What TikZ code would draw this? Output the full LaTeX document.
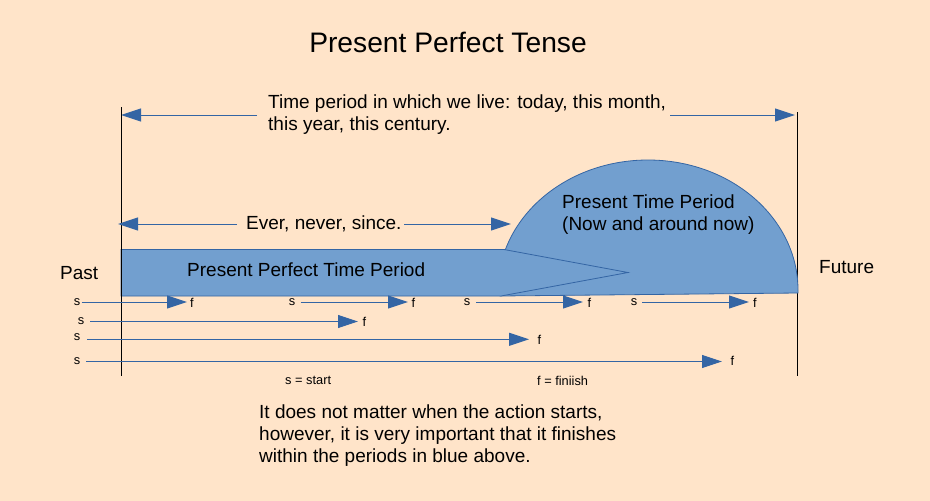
\documentclass[tikz,border=0pt]{standalone}
\usepackage{fontspec}
\setmainfont{Liberation Sans}
\usetikzlibrary{arrows.meta}
\definecolor{bg}{RGB}{255,228,201}
\definecolor{fillblue}{RGB}{114,159,207}
\definecolor{edgeblue}{RGB}{52,101,164}
\tikzset{
  txt/.style={font=\fontsize{19}{22}\selectfont, align=left, inner sep=0pt, anchor=west},
  small/.style={font=\fontsize{12.8}{14}\selectfont, inner sep=0pt},
  arr/.style={draw=edgeblue, line width=1pt, -{Triangle[length=20pt,width=13pt]}},
  vline/.style={draw=black, line width=0.9pt},
  region/.style={fill=fillblue, draw=edgeblue, line width=0.8pt},
}
\begin{document}
\begin{tikzpicture}[x=1pt,y=-1pt]
\fill[bg] (0,0) rectangle (930,501);
\useasboundingbox (0,0) rectangle (930,501);

% title
\node[font=\fontsize{28.2}{30}\selectfont, inner sep=0pt] (title) at (448,42) {Present Perfect Tense};

% vertical boundary lines
\coordinate (lt) at (121,107); \coordinate (lb) at (121,376);
\coordinate (rt) at (797,112); \coordinate (rb) at (797,376);
\draw[vline] (lt) -- (lb);
\draw[vline] (rt) -- (rb);

% top arrow with text
\node[txt] (toptext) at (268,115) {Time period in which we live: today, this month,\\this year, this century.};
\coordinate (tl0) at (257,115); \coordinate (tl1) at (121,115);
\coordinate (tr0) at (670,115); \coordinate (tr1) at (795,115);
\draw[arr] (tl0) -- (tl1);
\draw[arr] (tr0) -- (tr1);

% present time period dome
\path[region] (500,296) -- (798,293) -- (798,290) arc (0:-180:150 and 130) -- cycle;
% present perfect bar
\path[region] (121,249.5) -- (504,249.5) -- (628,272.5) -- (501,296) -- (121,296) -- cycle;
\draw[vline] (lt) -- (lb);

\node[txt] (ptp) at (562,214.5) {Present Time Period\\(Now and around now)};
\node[txt] (pptp) at (187,269.5) {Present Perfect Time Period};

% ever never since
\node[txt] (ever) at (246,224) {Ever, never, since.};
\coordinate (el0) at (237,224); \coordinate (el1) at (118,224);
\coordinate (er0) at (404,224); \coordinate (er1) at (511,224);
\draw[arr] (el0) -- (el1);
\draw[arr] (er0) -- (er1);

% past / future
\node[txt] (past) at (60,273) {Past};
\node[txt] (future) at (819,267.5) {Future};

% s -> f arrows
\node[small] (s1) at (77,302.5) {s};
\node[small,anchor=west] (f1) at (190,302.5) {f};
\coordinate (a1) at (81.5,302); \coordinate (t1) at (187,302);
\draw[arr] (a1) -- (t1);

\node[small] (s2) at (292,302.5) {s};
\node[small,anchor=west] (f2) at (411.5,302.5) {f};
\coordinate (a2) at (300.5,302); \coordinate (t2) at (408,302);
\draw[arr] (a2) -- (t2);

\node[small] (s3) at (467,302.5) {s};
\node[small,anchor=west] (f3) at (587.5,302.5) {f};
\coordinate (a3) at (476,302); \coordinate (t3) at (583,302);
\draw[arr] (a3) -- (t3);

\node[small] (s4) at (634,302.5) {s};
\node[small,anchor=west] (f4) at (753,302.5) {f};
\coordinate (a4) at (642,302); \coordinate (t4) at (749,302);
\draw[arr] (a4) -- (t4);

\node[small] (s5) at (81,321.5) {s};
\node[small,anchor=west] (f5) at (362.5,321.5) {f};
\coordinate (a5) at (90,321.5); \coordinate (t5) at (358,321.5);
\draw[arr] (a5) -- (t5);

\node[small] (s6) at (77,337) {s};
\node[small,anchor=west] (f6) at (537.5,339.5) {f};
\coordinate (a6) at (87,339.3); \coordinate (t6) at (529,339.3);
\draw[arr] (a6) -- (t6);

\node[small] (s7) at (77,361) {s};
\node[small,anchor=west] (f7) at (730.5,361) {f};
\coordinate (a7) at (86,361.5); \coordinate (t7) at (722,361.5);
\draw[arr] (a7) -- (t7);

% legend
\node[small,anchor=west] (leg1) at (285,380.5) {s = start};
\node[small,anchor=west] (leg2) at (537,380.5) {f = finiish};

% bottom text
\node[txt] (bottom) at (259,435.5) {It does not matter when the action starts,\\however, it is very important that it finishes\\within the periods in blue above.};
\end{tikzpicture}
\end{document}
